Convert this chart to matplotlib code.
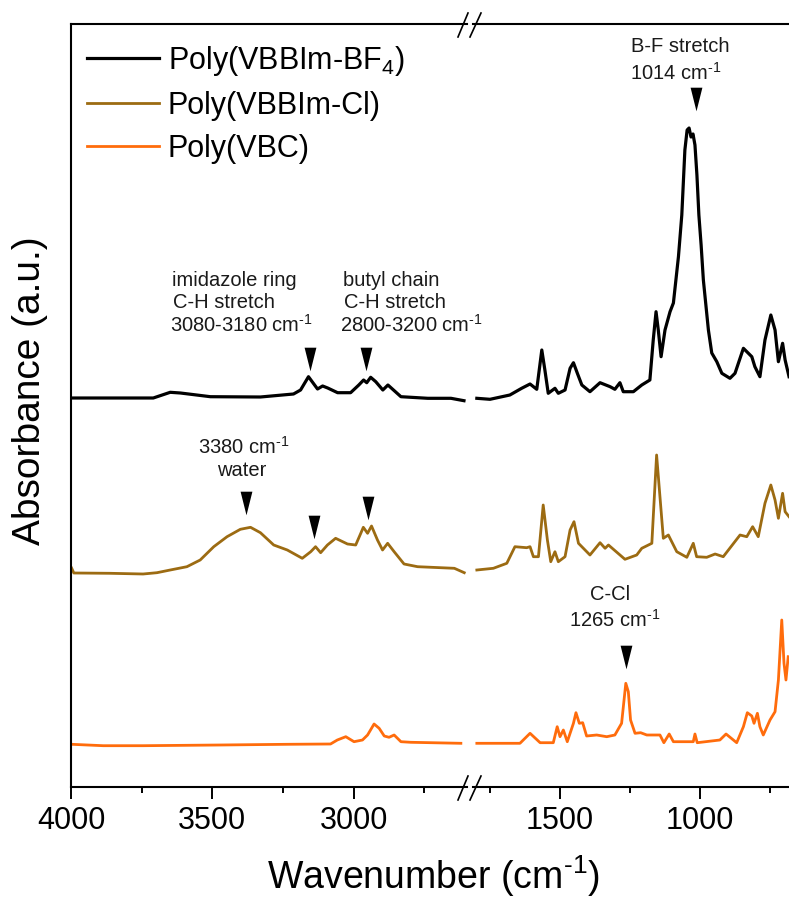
import numpy as np
import matplotlib
matplotlib.use("Agg")
import matplotlib.pyplot as plt
from matplotlib.lines import Line2D

plt.rcParams["font.family"] = ["Liberation Sans", "DejaVu Sans"]
plt.rcParams["mathtext.fontset"] = "custom"
plt.rcParams["mathtext.rm"] = "Liberation Sans"
plt.rcParams["mathtext.it"] = "Liberation Sans:italic"
plt.rcParams["mathtext.bf"] = "Liberation Sans:bold"

# ---------------- spectra (wavenumber in cm-1, absorbance above own baseline) ----------------
bf4_wn_high = [3996, 3709, 3649, 3613, 3507, 3330, 3213, 3188, 3160, 3128, 3110, 3092, 3057,
               3011, 2982, 2965, 2954, 2940, 2922, 2897, 2879, 2833, 2738, 2656, 2610]
bf4_ab_high = [0.02, 0.02, 0.077, 0.07, 0.033, 0.03, 0.06, 0.10, 0.233, 0.11, 0.14, 0.12, 0.073,
               0.073, 0.15, 0.20, 0.173, 0.227, 0.183, 0.10, 0.15, 0.033, 0.017, 0.017, -0.007]
bf4_wn_low = [1797, 1750, 1679, 1637, 1607, 1583, 1565, 1554, 1542, 1518, 1506, 1482, 1464,
              1452, 1438, 1422, 1393, 1357, 1321, 1304, 1286, 1274, 1238, 1208, 1179, 1167,
              1157, 1149, 1139, 1125, 1107, 1095, 1077, 1065, 1054, 1046, 1039, 1032, 1025,
              1018, 1011, 1004, 996, 988, 970, 958, 940, 922, 893, 875, 845, 815, 804, 786,
              768, 747, 732, 720, 705, 696, 682]
bf4_ab_low = [0.017, 0.007, 0.05, 0.117, 0.16, 0.107, 0.50, 0.30, 0.067, 0.117, 0.067, 0.10,
              0.317, 0.373, 0.267, 0.15, 0.083, 0.173, 0.133, 0.107, 0.173, 0.083, 0.083, 0.15,
              0.20, 0.60, 0.883, 0.70, 0.433, 0.70, 0.883, 0.97, 1.433, 1.85, 2.50, 2.70, 2.72,
              2.63, 2.66, 2.55, 2.25, 1.85, 1.55, 1.20, 0.70, 0.47, 0.383, 0.267, 0.217, 0.267,
              0.517, 0.433, 0.333, 0.233, 0.60, 0.85, 0.70, 0.383, 0.567, 0.40, 0.233]

cl_wn_high = [3998, 3990, 3862, 3745, 3696, 3649, 3590, 3543, 3495, 3448, 3401, 3365, 3330,
              3283, 3235, 3182, 3152, 3135, 3117, 3093, 3064, 3022, 2993, 2975, 2966, 2951,
              2937, 2916, 2898, 2880, 2857, 2822, 2774, 2644, 2609]
cl_ab_high = [0.07, 0.02, 0.017, 0.01, 0.023, 0.05, 0.083, 0.15, 0.283, 0.383, 0.457, 0.477,
              0.423, 0.30, 0.25, 0.167, 0.233, 0.283, 0.223, 0.30, 0.367, 0.31, 0.30, 0.417,
              0.477, 0.417, 0.49, 0.35, 0.25, 0.317, 0.233, 0.11, 0.083, 0.067, 0.023]
cl_wn_low = [1797, 1738, 1690, 1661, 1619, 1607, 1595, 1577, 1560, 1545, 1533, 1518, 1506,
             1482, 1464, 1450, 1434, 1393, 1357, 1339, 1327, 1268, 1226, 1208, 1172, 1155,
             1143, 1131, 1113, 1083, 1047, 1024, 1012, 976, 946, 917, 857, 833, 812, 792,
             768, 747, 732, 720, 705, 696, 682]
cl_ab_low = [0.05, 0.067, 0.117, 0.283, 0.273, 0.283, 0.183, 0.183, 0.70, 0.35, 0.133, 0.233,
             0.133, 0.183, 0.45, 0.533, 0.317, 0.20, 0.323, 0.267, 0.30, 0.157, 0.20, 0.267,
             0.317, 1.20, 0.783, 0.367, 0.40, 0.233, 0.177, 0.317, 0.183, 0.177, 0.21, 0.183,
             0.40, 0.383, 0.483, 0.383, 0.717, 0.90, 0.75, 0.567, 0.817, 0.633, 0.583]

vbc_wn_high = [3998, 3886, 3745, 3472, 3235, 3082, 3058, 3028, 2999, 2969, 2951, 2928, 2910,
               2892, 2875, 2857, 2833, 2798, 2621]
vbc_ab_high = [0.017, 0.003, 0.003, 0.01, 0.017, 0.02, 0.06, 0.093, 0.043, 0.06, 0.11, 0.22,
               0.177, 0.10, 0.087, 0.11, 0.043, 0.037, 0.027]
vbc_wn_low = [1797, 1643, 1607, 1571, 1524, 1510, 1500, 1488, 1474, 1452, 1443, 1431, 1419,
              1405, 1369, 1333, 1304, 1280, 1265, 1256, 1248, 1232, 1212, 1190, 1143, 1129,
              1110, 1095, 1024, 1018, 1010, 929, 907, 869, 845, 831, 815, 807, 795, 786, 774,
              750, 732, 720, 708, 700, 693, 685]
vbc_ab_low = [0.027, 0.027, 0.127, 0.033, 0.033, 0.193, 0.093, 0.16, 0.043, 0.227, 0.333,
              0.227, 0.233, 0.10, 0.11, 0.093, 0.11, 0.227, 0.627, 0.543, 0.26, 0.127, 0.133,
              0.11, 0.11, 0.033, 0.12, 0.043, 0.043, 0.12, 0.033, 0.06, 0.12, 0.033, 0.193,
              0.333, 0.30, 0.227, 0.327, 0.193, 0.11, 0.26, 0.343, 0.66, 1.26, 0.827, 0.66,
              0.893]

series_names = ["Poly(VBBIm-BF$_4$)", "Poly(VBBIm-Cl)", "Poly(VBC)"]
series_colors = ["#000000", "#9C6B12", "#FF6C0C"]
series_offsets = [3.87, 2.12, 0.41]
series_high = [(bf4_wn_high, bf4_ab_high), (cl_wn_high, cl_ab_high), (vbc_wn_high, vbc_ab_high)]
series_low = [(bf4_wn_low, bf4_ab_low), (cl_wn_low, cl_ab_low), (vbc_wn_low, vbc_ab_low)]

# band markers: (wavenumber, height on the plot)
marker_wn_high = [3156, 2957, 3380, 3142, 2951]
marker_y_high = [4.28, 4.28, 2.84, 2.60, 2.79]
marker_wn_low = [1014, 1265]
marker_y_low = [6.88, 1.30]

x_ticks_high = [4000, 3500, 3000]
x_ticks_low = [1500, 1000]

# ---------------- layout ----------------
W, H = 789, 898
fig = plt.figure(figsize=(W / 100, H / 100), dpi=100)


def fx(px):
    return px / W


def fy(py):
    return 1 - py / H


ax_top_px, ax_bot_px = 24, 787
ax1 = fig.add_axes([fx(71), fy(ax_bot_px), fx(466.8) - fx(71), (ax_bot_px - ax_top_px) / H])
ax2 = fig.add_axes([fx(473.2), fy(ax_bot_px), fx(800.8) - fx(473.2), (ax_bot_px - ax_top_px) / H])

lw = [2.3, 2.0, 2.0]
for i in range(3):
    wn, ab = series_high[i]
    ax1.plot(wn, np.array(ab) + series_offsets[i], color=series_colors[i], lw=lw[i],
             solid_joinstyle="round")
    wn, ab = series_low[i]
    ax2.plot(wn, np.array(ab) + series_offsets[i], color=series_colors[i], lw=lw[i],
             solid_joinstyle="round", label=series_names[i])

tri = [(-0.5, 1), (0.5, 1), (0, -1), (-0.5, 1)]
ax1.plot(marker_wn_high, marker_y_high, ls="none", marker=tri, ms=17, color="black", mew=0)
ax2.plot(marker_wn_low, marker_y_low, ls="none", marker=tri, ms=17, color="black", mew=0)

ax1.set_xlim(4000, 2600)
ax2.set_xlim(1810, 640)
for ax in (ax1, ax2):
    ax.set_ylim(0, 7.63)
    ax.set_yticks([])
    ax.tick_params(axis="x", which="major", direction="out", length=8.5, width=1.4,
                   labelsize=22, pad=5, top=False)
    ax.tick_params(axis="x", which="minor", direction="out", length=4.5, width=1.4, top=False)
    for s in ax.spines.values():
        s.set_linewidth(1.5)
    ax.spines["right"].set_visible(False)
    ax.patch.set_alpha(0)
ax2.spines["left"].set_visible(False)

ax1.set_xticks(x_ticks_high)
ax1.set_xticks([3750, 3250, 2750], minor=True)
ax2.set_xticks(x_ticks_low)
ax2.set_xticks([1750, 1250, 750], minor=True)

# axis break marks
for (x0, x1) in [(458, 468), (470, 481)]:
    for yc in (788, 25):
        fig.add_artist(Line2D([fx(x0), fx(x1)], [fy(yc + 12), fy(yc - 12)], color="black", lw=1.2))

# axis titles
fig.text(fx(433), fy(876), r"Wavenumber (cm$^{\text{-1}}$)", ha="center", va="center", fontsize=27)
fig.text(fx(30), fy(391), "Absorbance (a.u.)", ha="center", va="center", rotation=90, fontsize=28)

# legend
ax2.legend(loc="upper left", bbox_to_anchor=(fx(87), fy(44)), bbox_transform=fig.transFigure,
           frameon=False, borderpad=0, borderaxespad=0, handlelength=2.35, handletextpad=0.3,
           labelspacing=0.42, fontsize=22)

# band annotations
ann = dict(fontsize=14.5, color="#1a1a1a", va="center")
cm = r"cm$^{\text{-1}}$"
fig.text(fx(680), fy(46), "B-F stretch", ha="center", **ann)
fig.text(fx(676), fy(73), "1014 " + cm, ha="center", **ann)
fig.text(fx(172), fy(281), "imidazole ring", ha="left", **ann)
fig.text(fx(173), fy(303), "C-H stretch", ha="left", **ann)
fig.text(fx(170), fy(325), "3080-3180 " + cm, ha="left", **ann)
fig.text(fx(343), fy(281), "butyl chain", ha="left", **ann)
fig.text(fx(344), fy(303), "C-H stretch", ha="left", **ann)
fig.text(fx(340), fy(325), "2800-3200 " + cm, ha="left", **ann)
fig.text(fx(244), fy(447), "3380 " + cm, ha="center", **ann)
fig.text(fx(242), fy(470), "water", ha="center", **ann)
fig.text(fx(610), fy(594), "C-Cl", ha="center", **ann)
fig.text(fx(615), fy(620), "1265 " + cm, ha="center", **ann)

fig.savefig("out.png", dpi=100)
